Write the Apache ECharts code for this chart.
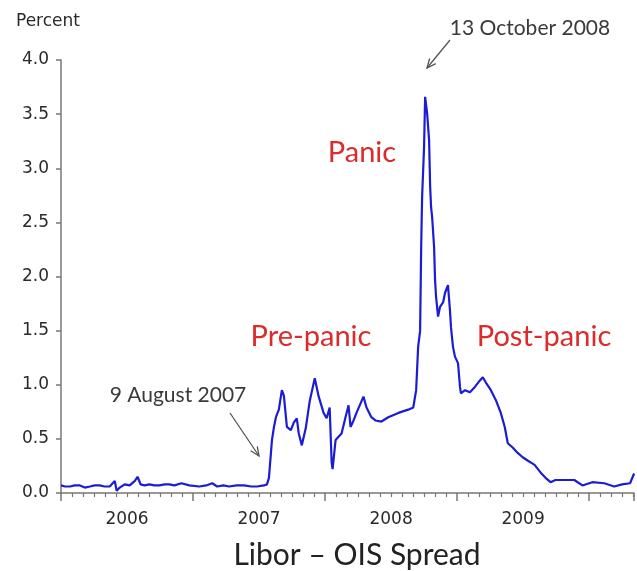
<!DOCTYPE html>
<html>
<head>
<meta charset="utf-8">
<script src="https://cdn.jsdelivr.net/npm/echarts@6/dist/echarts.min.js"></script>
<style>
  html, body { margin: 0; padding: 0; background: #fff; }
  #chart { width: 637px; height: 571px; }
</style>
</head>
<body>
<div id="chart"></div>
<script>
// dates as decimal years, spread in percent
var dates = [
	2006.000, 2006.030, 2006.068, 2006.105, 2006.143, 2006.180, 2006.219, 2006.255, 2006.294, 2006.330,
	2006.369, 2006.407, 2006.422, 2006.445, 2006.482, 2006.520, 2006.558, 2006.580, 2006.603, 2006.633,
	2006.670, 2006.708, 2006.745, 2006.784, 2006.820, 2006.859, 2006.912, 2006.972, 2007.047, 2007.100,
	2007.145, 2007.183, 2007.230, 2007.274, 2007.330, 2007.387, 2007.440, 2007.485, 2007.537, 2007.560,
	2007.575, 2007.598, 2007.613, 2007.628, 2007.650, 2007.673, 2007.688, 2007.711, 2007.741, 2007.763,
	2007.786, 2007.801, 2007.824, 2007.854, 2007.884, 2007.922, 2007.952, 2007.989, 2008.012, 2008.035,
	2008.050, 2008.057, 2008.080, 2008.102, 2008.125, 2008.155, 2008.178, 2008.193, 2008.216, 2008.238,
	2008.291, 2008.314, 2008.351, 2008.381, 2008.427, 2008.479, 2008.555, 2008.630, 2008.668, 2008.690,
	2008.705, 2008.720, 2008.728, 2008.735, 2008.750, 2008.758, 2008.773, 2008.788, 2008.796, 2008.803,
	2008.811, 2008.826, 2008.833, 2008.841, 2008.856, 2008.871, 2008.894, 2008.909, 2008.931, 2008.946,
	2008.954, 2008.969, 2008.984, 2009.007, 2009.022, 2009.029, 2009.060, 2009.097, 2009.135, 2009.173,
	2009.195, 2009.218, 2009.256, 2009.293, 2009.331, 2009.361, 2009.384, 2009.421, 2009.459, 2009.497,
	2009.534, 2009.587, 2009.632, 2009.670, 2009.708, 2009.745, 2009.813, 2009.888, 2009.949, 2010.024,
	2010.115, 2010.190, 2010.250, 2010.310, 2010.341
];
var spread = [
	0.07, 0.06, 0.06, 0.07, 0.07, 0.05, 0.06, 0.07, 0.07, 0.06,
	0.06, 0.11, 0.02, 0.05, 0.08, 0.07, 0.11, 0.15, 0.08, 0.07,
	0.08, 0.07, 0.07, 0.08, 0.08, 0.07, 0.09, 0.07, 0.06, 0.07,
	0.09, 0.06, 0.07, 0.06, 0.07, 0.07, 0.06, 0.06, 0.07, 0.08,
	0.14, 0.49, 0.61, 0.70, 0.77, 0.95, 0.90, 0.61, 0.58, 0.65,
	0.69, 0.55, 0.44, 0.60, 0.85, 1.06, 0.89, 0.74, 0.69, 0.79,
	0.28, 0.22, 0.49, 0.52, 0.55, 0.70, 0.81, 0.61, 0.67, 0.74,
	0.89, 0.79, 0.70, 0.67, 0.66, 0.70, 0.74, 0.77, 0.79, 0.95,
	1.35, 1.50, 2.27, 2.73, 3.20, 3.66, 3.51, 3.26, 2.83, 2.64,
	2.55, 2.27, 1.97, 1.81, 1.63, 1.72, 1.76, 1.85, 1.92, 1.69,
	1.53, 1.35, 1.26, 1.20, 0.98, 0.92, 0.95, 0.93, 0.98, 1.04,
	1.07, 1.02, 0.95, 0.86, 0.74, 0.61, 0.46, 0.42, 0.37, 0.33,
	0.30, 0.26, 0.19, 0.14, 0.10, 0.12, 0.12, 0.12, 0.07, 0.10,
	0.09, 0.06, 0.08, 0.09, 0.18
];
var yearLabels = ['2006', '2007', '2008', '2009'];
var phaseLabels = ['Pre-panic', 'Panic', 'Post-panic'];
var eventLabels = ['9 August 2007', '13 October 2008'];

var axisFont = 'DejaVu Sans';
var noteFont = 'Lato';

function arrow(x1, y1, x2, y2) {
	var dx = x2 - x1, dy = y2 - y1;
	var len = Math.sqrt(dx * dx + dy * dy);
	var ux = dx / len, uy = dy / len;
	var h = 9, w = 4;
	var bx = x2 - ux * h, by = y2 - uy * h;
	return {
		type: 'group',
		children: [{
			type: 'line',
			shape: { x1: x1, y1: y1, x2: x2, y2: y2 },
			style: { stroke: '#555', lineWidth: 1.3 }
		}, {
			type: 'polyline',
			shape: { points: [[bx - uy * w, by + ux * w], [x2, y2], [bx + uy * w, by - ux * w]] },
			style: { stroke: '#555', lineWidth: 1.3, fill: null }
		}]
	};
}

function text(str, x, y, size, color, font) {
	return {
		type: 'text',
		style: {
			text: str, x: x, y: y,
			font: size + 'px "' + font + '"',
			fill: color,
			textAlign: 'center',
			textVerticalAlign: 'middle'
		}
	};
}

var myChart = echarts.init(document.getElementById('chart'));
var seriesData = dates.map(function(d, i) { return [d, spread[i]]; });

var option = {
	animation: false,
	grid: { left: 61, right: 0, top: 60, bottom: 78, containLabel: false },
	xAxis: [{
		type: 'value',
		min: 2006,
		max: 2010.34,
		interval: 1,
		axisLine: { lineStyle: { color: '#777', width: 1.5 } },
		axisTick: { show: true, length: 8, lineStyle: { color: '#777', width: 1.5 } },
		minorTick: { show: true, splitNumber: 12, length: 4, lineStyle: { color: '#777', width: 1.2 } },
		axisLabel: { show: false },
		splitLine: { show: false }
	}, {
		type: 'value',
		position: 'bottom',
		min: 2006,
		max: 2010.34,
		interval: 0.5,
		axisLine: { show: false },
		axisTick: { show: false },
		splitLine: { show: false },
		axisLabel: {
			margin: 18,
			color: '#2a2a2a',
			fontFamily: axisFont,
			fontSize: 17,
			formatter: function(v) {
				var k = Math.round((v - 2006.5));
				if (Math.abs(v - 2006.5 - k) < 0.01 && yearLabels[k]) return yearLabels[k];
				return '';
			}
		}
	}],
	yAxis: {
		type: 'value',
		min: 0,
		max: 4,
		interval: 0.5,
		axisLine: { show: true, lineStyle: { color: '#777', width: 1.5 } },
		axisTick: { show: true, length: 5, lineStyle: { color: '#777', width: 1.5 } },
		axisLabel: {
			margin: 12,
			color: '#2a2a2a',
			fontFamily: axisFont,
			fontSize: 17,
			formatter: function(v) { return v.toFixed(1); }
		},
		splitLine: { show: false }
	},
	series: [{
		name: 'Libor - OIS',
		type: 'line',
		xAxisIndex: 0,
		showSymbol: false,
		lineStyle: { color: '#1c1cd4', width: 2.2 },
		data: seriesData
	}],
	graphic: [
		text('Percent', 48, 22, 17, '#2a2a2a', axisFont),
		text(phaseLabels[0], 311, 337, 29, '#dd2a2a', noteFont),
		text(phaseLabels[1], 362, 153, 29, '#dd2a2a', noteFont),
		text(phaseLabels[2], 544, 337, 29, '#dd2a2a', noteFont),
		text(eventLabels[0], 178, 395, 21, '#3a3a3a', noteFont),
		text(eventLabels[1], 530, 28, 21, '#3a3a3a', noteFont),
		text('Libor \u2013 OIS Spread', 357, 555, 30, '#222', noteFont),
		arrow(230, 413, 259, 456),
		arrow(450, 40, 427, 68)
	]
};
myChart.setOption(option);
</script>
</body>
</html>
